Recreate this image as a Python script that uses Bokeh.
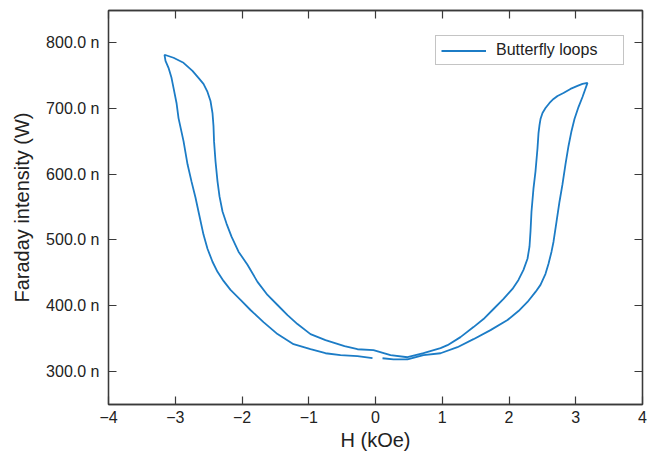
from bokeh.plotting import figure
from bokeh.models import (Range1d, LinearAxis, CustomJSTickFormatter, Legend,
                          LegendItem, ColumnDataSource)
from bokeh.embed import file_html
from bokeh.resources import INLINE

# ---- data (H in kOe, Faraday intensity in nW) ----
h_kOe = [
    # lower branch, sweeping to +H
    0.105, 0.270, 0.479, 0.719, 0.974, 1.228, 1.468, 1.723, 1.978, 2.142,
    2.277, 2.397, 2.472, 2.547, 2.592, 2.637, 2.667, 2.712, 2.757, 2.801,
    2.846, 2.891, 2.936, 2.981, 3.041, 3.101, 3.176,
    # return branch, +H to -H
    3.101, 3.026, 2.921, 2.816, 2.727, 2.667, 2.607, 2.547, 2.502, 2.472,
    2.457, 2.442, 2.427, 2.397, 2.367, 2.337, 2.322, 2.307, 2.277, 2.217,
    2.142, 2.052, 1.918, 1.768, 1.618, 1.468, 1.273, 1.079, 0.974, 0.719,
    0.479, 0.225, -0.030, -0.270, -0.464, -0.749, -0.974, -1.169, -1.318,
    -1.468, -1.618, -1.768, -1.918, -2.052, -2.157, -2.232, -2.292, -2.337,
    -2.367, -2.397, -2.419, -2.427, -2.442, -2.472, -2.517, -2.577, -2.652,
    -2.742, -2.876, -3.026, -3.161,
    # outer branch, -H back towards zero
    -3.146, -3.101, -3.056, -3.026, -2.981, -2.951, -2.876, -2.816, -2.757,
    -2.697, -2.652, -2.577, -2.517, -2.442, -2.367, -2.277, -2.172, -2.022,
    -1.873, -1.678, -1.468, -1.228, -0.974, -0.749, -0.524, -0.270, -0.045,
]
faraday_nW = [
    319.9, 318.3, 318.3, 324.5, 327.5, 336.7, 348.9, 362.7, 378.0, 391.7,
    405.5, 420.8, 431.5, 448.3, 463.6, 482.0, 497.2, 527.8, 558.4, 584.4,
    615.0, 642.5, 665.4, 683.8, 702.1, 717.4, 738.8,
    737.3, 734.3, 729.7, 723.5, 719.0, 714.4, 708.3, 700.6, 693.0, 683.8,
    674.6, 662.4, 639.4, 604.3, 578.3, 543.1, 512.5, 489.6, 471.3, 454.4,
    439.1, 425.4, 410.1, 394.8, 379.5, 367.3, 352.0, 339.8, 335.2, 327.5,
    321.4, 324.5, 332.1, 333.6, 338.2, 347.4, 356.6, 371.9, 385.6,
    400.9, 416.2, 436.1, 462.1, 482.0, 504.9, 524.8, 543.1, 566.1,
    589.0, 619.6, 650.2, 673.1, 693.0, 711.3, 725.1, 737.3, 746.5,
    757.2, 769.4, 777.1, 781.7,
    772.5, 761.8, 746.5, 731.2, 708.3, 685.3, 650.2, 615.0, 589.0,
    564.5, 543.1, 508.0, 486.5, 466.7, 451.4, 437.6, 423.9, 408.6,
    393.3, 374.9, 356.6, 341.3, 333.6, 327.5, 324.5, 323.0, 319.9,
]
x_ticks = [-4, -3, -2, -1, 0, 1, 2, 3, 4]
y_ticks = [300, 400, 500, 600, 700, 800]
series_label = "Butterfly loops"

FONT = "Liberation Sans"
LINE = "#1c7cc6"
FRAME = "#3a3a3a"

p = figure(width=647, height=462, output_backend="svg", toolbar_location=None,
           x_range=Range1d(-4, 4), y_range=Range1d(249.5, 849),
           min_border_left=108, min_border_right=5, min_border_top=10,
           min_border_bottom=58)
p.grid.visible = False
p.outline_line_color = FRAME
p.outline_line_width = 1.3
p.background_fill_color = "white"
p.border_fill_color = "white"

src = ColumnDataSource(dict(h=h_kOe, f=faraday_nW))
r = p.line("h", "f", source=src, line_color=LINE, line_width=1.8)

xfmt = CustomJSTickFormatter(code="return (tick < 0 ? '\u2212' : '') + Math.abs(tick).toFixed(0);")
yfmt = CustomJSTickFormatter(code="return tick.toFixed(1) + ' n';")


def style(ax, labels=True):
    ax.axis_line_color = FRAME
    ax.axis_line_width = 1.3
    ax.major_tick_line_color = FRAME
    ax.minor_tick_line_color = FRAME
    ax.major_tick_line_width = 1.2
    ax.minor_tick_line_width = 1.2
    ax.major_tick_in = 8
    ax.major_tick_out = 0
    ax.minor_tick_in = 4
    ax.minor_tick_out = 0
    if labels:
        ax.major_label_text_font = FONT
        ax.major_label_text_font_size = "16px"
        ax.major_label_text_color = "#222222"
        ax.axis_label_text_font = FONT
        ax.axis_label_text_font_size = "20px"
        ax.axis_label_text_font_style = "normal"
        ax.axis_label_text_color = "#222222"
    else:
        ax.formatter = CustomJSTickFormatter(code="return '';")
        ax.major_label_standoff = 0
        ax.axis_label = None


xa = p.xaxis[0]
xa.ticker = x_ticks
xa.ticker.num_minor_ticks = 2
xa.formatter = xfmt
xa.axis_label = "H (kOe)"
style(xa)
xa.major_label_standoff = 6
xa.axis_label_standoff = 3

ya = p.yaxis[0]
ya.ticker = y_ticks
ya.ticker.num_minor_ticks = 2
ya.formatter = yfmt
ya.axis_label = "Faraday intensity (W)"
style(ya)
ya.major_label_standoff = 9
ya.axis_label_standoff = 10

top = LinearAxis(ticker=x_ticks)
top.ticker.num_minor_ticks = 2
style(top, labels=False)
p.add_layout(top, "above")

right = LinearAxis(ticker=y_ticks)
right.ticker.num_minor_ticks = 2
style(right, labels=False)
p.add_layout(right, "right")

legend = Legend(items=[LegendItem(label=series_label, renderers=[r])],
                location=(327, 339))
legend.label_text_font = FONT
legend.label_text_font_size = "16px"
legend.label_text_color = "#222222"
legend.glyph_width = 45
legend.glyph_height = 15
legend.label_height = 15
legend.label_width = 122
legend.label_standoff = 10
legend.padding = 5
legend.margin = 0
legend.border_line_color = "#8a8a8a"
legend.border_line_width = 1
legend.background_fill_alpha = 1
p.add_layout(legend)

open("out.html", "w").write(file_html(p, INLINE))
